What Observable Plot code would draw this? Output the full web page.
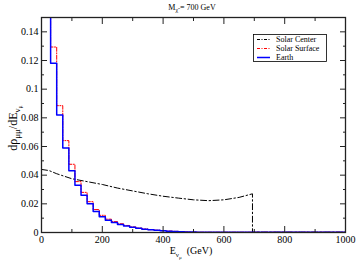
<!DOCTYPE html>
<html><head><meta charset="utf-8">
<script src="https://cdn.jsdelivr.net/npm/d3@7"></script>
<script src="https://cdn.jsdelivr.net/npm/@observablehq/plot@0.6"></script>
<style>body{margin:0;background:#fff} svg{display:block}</style>
</head><body><div id="chart"></div>
<script>
// Histogram bins (GeV, bin start; width 20)
const binStart = [10, 30, 50, 70, 90, 110, 130, 150, 170, 190, 210, 230, 250, 270, 290, 310, 330, 350, 370, 390, 410, 430, 450, 470, 490, 510, 1000];
const earth =        [0.19, 0.118, 0.082, 0.059, 0.043, 0.033, 0.026, 0.020, 0.0146, 0.011, 0.0086, 0.0070, 0.0056, 0.0045, 0.0036, 0.0029, 0.0023, 0.0019, 0.0015, 0.0012, 0.0009, 0.0007, 0.0005, 0.0004, 0.0003, 0.0002, 0.0002];
const solarSurface = [0.21, 0.1294, 0.0885, 0.0641, 0.0476, 0.0355, 0.028, 0.0215, 0.016, 0.012, 0.0093, 0.0076, 0.0061, 0.0049, 0.0039, 0.0031, 0.0025, 0.0020, 0.0016, 0.0013, 0.0010, 0.0008, 0.0006, 0.0004, 0.0003, 0.0002, 0.0002];
// Solar center curve
const centerE = [0, 25, 50, 100, 150, 200, 250, 300, 350, 400, 450, 500, 550, 600, 650, 694, 694, 1000];
const centerV = [0.044, 0.0432, 0.041, 0.0375, 0.0355, 0.0335, 0.031, 0.029, 0.027, 0.0253, 0.024, 0.0228, 0.0222, 0.0228, 0.0245, 0.027, 0.0002, 0.0002];
// Ticks
const xMajor = [0, 200, 400, 600, 800, 1000];
const xMinor = [100, 300, 500, 700, 900];
const yMajor = [0, 0.02, 0.04, 0.06, 0.08, 0.1, 0.12, 0.14];
const yMinor = [0.01, 0.03, 0.05, 0.07, 0.09, 0.11, 0.13];

const earthData = binStart.map((x, i) => ({x, y: earth[i]}));
const surfaceData = binStart.map((x, i) => ({x, y: solarSurface[i]}));
const centerData = centerE.map((x, i) => ({x, y: centerV[i]}));

const blank = () => "";
const tickOpts = (anchor, size) => ({anchor, tickSize: size, tickFormat: blank, label: null, stroke: "#222"});

const svgEl = Plot.plot({
  width: 357, height: 261,
  marginTop: 17, marginBottom: 29, marginLeft: 41, marginRight: 12,
  x: {domain: [0, 1000]},
  y: {domain: [0, 0.15]},
  style: {fontFamily: "Liberation Serif", fontSize: "10px", background: "white", color: "black"},
  marks: [
    Plot.line(centerData, {x: "x", y: "y", stroke: "black", strokeWidth: 1, strokeDasharray: "6,2.5,1.5,2.5", clip: true}),
    Plot.line(surfaceData, {x: "x", y: "y", curve: "step-after", stroke: "#ff0000", strokeWidth: 1, strokeDasharray: "4,1.5,1,1.5", clip: true}),
    Plot.line(earthData, {x: "x", y: "y", curve: "step-after", stroke: "#0000ff", strokeWidth: 1.5, clip: true}),
    Plot.frame({stroke: "#222", strokeWidth: 1.3}),
    Plot.axisX(xMajor, tickOpts("bottom", -6)),
    Plot.axisX(xMajor, tickOpts("top", -6)),
    Plot.axisX(xMinor, tickOpts("bottom", -3)),
    Plot.axisX(xMinor, tickOpts("top", -3)),
    Plot.axisY(yMajor, tickOpts("left", -6)),
    Plot.axisY(yMajor, tickOpts("right", -6)),
    Plot.axisY(yMinor, tickOpts("left", -3)),
    Plot.axisY(yMinor, tickOpts("right", -3)),
    Plot.axisX(xMajor, {anchor: "bottom", tickSize: 0, tickPadding: 3, label: null, fontSize: 10, tickFormat: d => String(d)}),
    Plot.axisY(yMajor, {anchor: "left", tickSize: 0, tickPadding: 3, label: null, fontSize: 10, tickFormat: d => String(d)})
  ]
});
document.getElementById("chart").appendChild(svgEl);

const svg = d3.select(svgEl);
const font = "Liberation Serif";

// Title
const t = svg.append("text").attr("x", 192).attr("y", 10).attr("text-anchor", "middle")
  .attr("font-family", font).attr("font-size", 8).attr("fill", "black");
t.append("tspan").text("M");
t.append("tspan").attr("dy", 2).attr("font-size", 6).text("χ̃");
t.append("tspan").attr("dy", -2).text(" = 700 GeV");

// X label
const xl = svg.append("text").attr("x", 191).attr("y", 254).attr("text-anchor", "middle")
  .attr("font-family", font).attr("font-size", 10).attr("fill", "black");
xl.append("tspan").text("E");
xl.append("tspan").attr("dy", 3).attr("font-size", 7).text("ν");
xl.append("tspan").attr("dy", 2).attr("font-size", 5).text("μ");
xl.append("tspan").attr("dy", -5).text("  (GeV)");

// Y label
const yl = svg.append("text").attr("transform", "translate(17,128) rotate(-90)").attr("text-anchor", "middle")
  .attr("font-family", font).attr("font-size", 12).attr("fill", "black");
yl.append("tspan").text("dρ");
yl.append("tspan").attr("dy", 3).attr("font-size", 9).text("μμ");
yl.append("tspan").attr("dy", -3).text("/dE");
yl.append("tspan").attr("dy", 3).attr("font-size", 9).text("ν");
yl.append("tspan").attr("dy", 2).attr("font-size", 6).text("μ");

// Legend
const lg = svg.append("g");
lg.append("rect").attr("x", 253.5).attr("y", 34.5).attr("width", 73).attr("height", 27)
  .attr("fill", "white").attr("stroke", "black").attr("stroke-width", 0.8);
const items = [
  {label: "Solar Center", color: "black", dash: "3,1.5,1,1.5", w: 1},
  {label: "Solar Surface", color: "#ff0000", dash: "3,1.5,1,1.5", w: 1},
  {label: "Earth", color: "#0000ff", dash: null, w: 1.5}
];
items.forEach((d, i) => {
  const y = 39.5 + i * 9;
  lg.append("line").attr("x1", 257).attr("x2", 270).attr("y1", y).attr("y2", y)
    .attr("stroke", d.color).attr("stroke-width", d.w).attr("stroke-dasharray", d.dash);
  lg.append("text").attr("x", 276).attr("y", y + 2.8).attr("text-anchor", "start")
    .attr("font-family", font).attr("font-size", 8).attr("fill", "black").text(d.label);
});
</script>
</body></html>
